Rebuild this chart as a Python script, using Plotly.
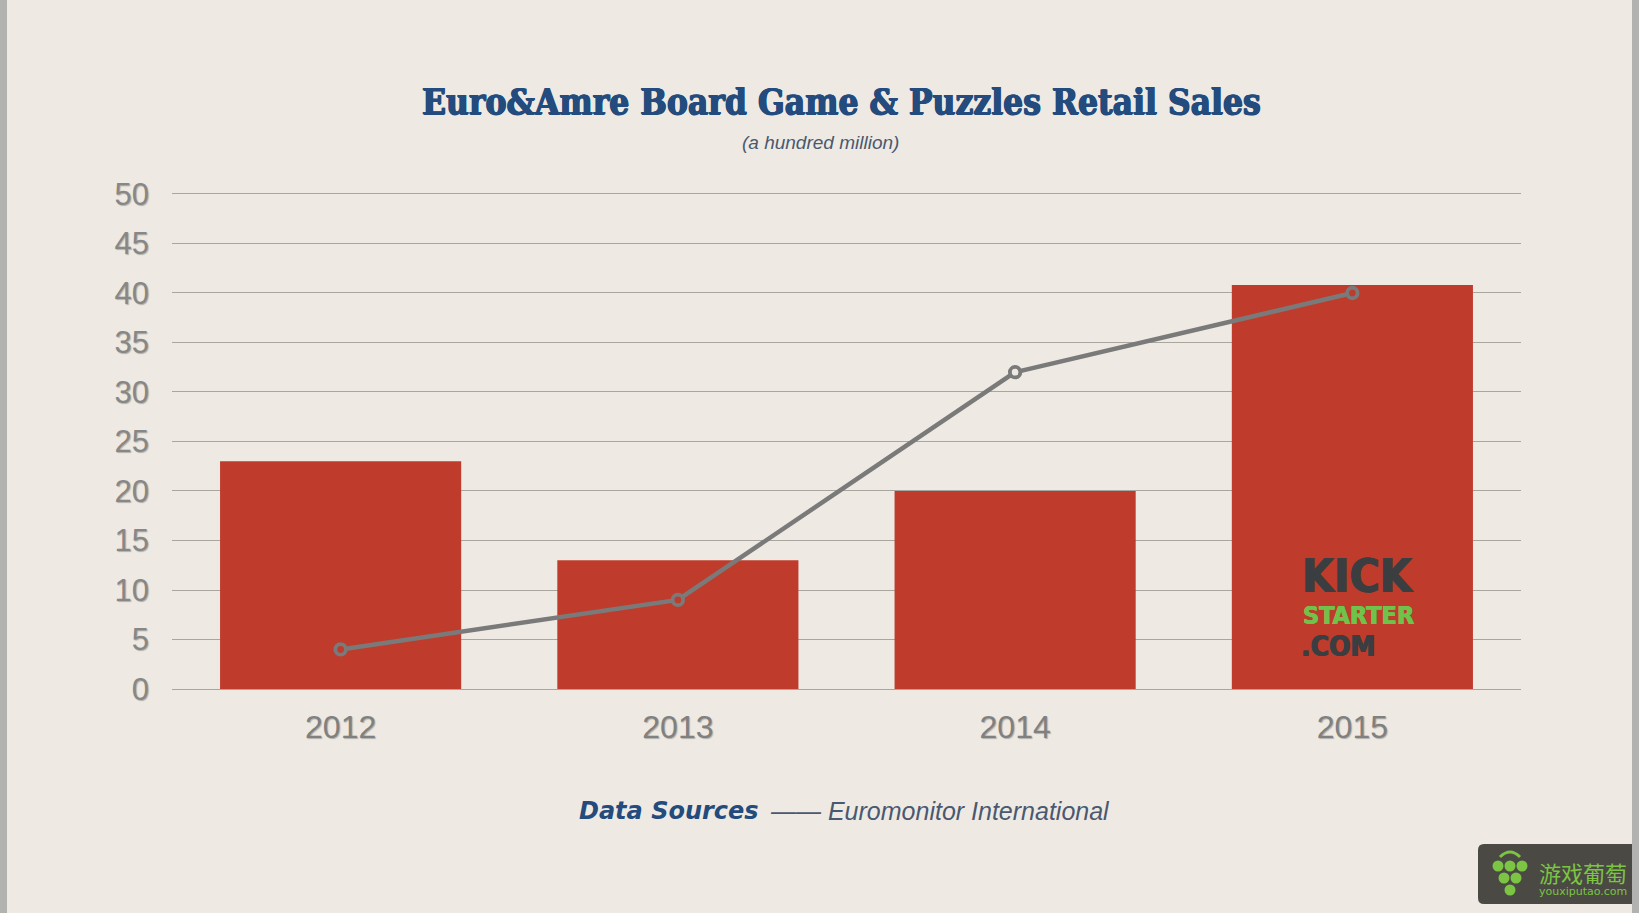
import plotly.graph_objects as go

# ---- data ----
years = ["2012", "2013", "2014", "2015"]
bar_values = [23.0, 13.0, 20.0, 40.8]
line_values = [4.0, 9.0, 32.0, 40.0]
y_ticks = [0, 5, 10, 15, 20, 25, 30, 35, 40, 45, 50]

title_text = "Euro&Amre Board Game & Puzzles Retail Sales"
subtitle_text = "(a hundred million)"
source_label = "Data Sources"
source_text = "—— Euromonitor International"

# ---- style ----
W, H = 1639, 913
L, R, T, B = 172, 118, 192, 224
Y_MAX = 50.2
BG = "#eeeae3"
BAR = "#bf3b2b"
LINE = "#7a7a7a"
NAVY = "#234b7d"

def px(x):
    return (x - L) / (W - L - R)

def py(y):
    return (H - B - y) / (H - T - B)

fig = go.Figure()

fig.add_trace(go.Bar(
    x=years, y=bar_values, marker=dict(color=BAR, line=dict(width=0)),
    width=0.715, hoverinfo="skip", showlegend=False,
))

marker_fill = [BAR if lv <= bv else BG for lv, bv in zip(line_values, bar_values)]
fig.add_trace(go.Scatter(
    x=years, y=line_values, mode="lines+markers",
    line=dict(color=LINE, width=4.5),
    marker=dict(symbol="circle", size=10.5, color=marker_fill,
                line=dict(color=LINE, width=3.8)),
    hoverinfo="skip", showlegend=False,
))

fig.update_layout(
    width=W, height=H,
    margin=dict(l=L, r=R, t=T, b=B, pad=0),
    paper_bgcolor=BG, plot_bgcolor=BG,
    showlegend=False,
    xaxis=dict(type="category", range=[-0.5, 3.5], showgrid=False,
               zeroline=False, showline=False, ticks="",
               tickfont=dict(family="Liberation Sans", size=32, color="#808080",
                             shadow="1px 1px 1px rgba(0,0,0,0.25)"),
               ticklabelstandoff=16),
    yaxis=dict(range=[0, Y_MAX], tickvals=y_ticks, showgrid=True,
               gridcolor="#a9a6a0", gridwidth=1,
               zeroline=True, zerolinecolor="#a9a6a0", zerolinewidth=1,
               showline=False, ticks="",
               tickfont=dict(family="Liberation Sans", size=31, color="#878787",
                             shadow="1px 1px 1px rgba(0,0,0,0.25)"),
               ticklabelstandoff=22),
)

thick = f"0.7px 0 0 {NAVY}, -0.7px 0 0 {NAVY}, 0 0.5px 0 {NAVY}"
ann = []
ann.append(dict(text=title_text, x=px(841), y=py(101), xref="paper", yref="paper",
                xanchor="center", yanchor="middle", showarrow=False,
                font=dict(family="DejaVu Serif Condensed", size=35, color=NAVY, weight="bold",
                          shadow=thick)))
ann.append(dict(text="<i>" + subtitle_text + "</i>", x=px(820), y=py(143), xref="paper", yref="paper",
                xanchor="center", yanchor="middle", showarrow=False,
                font=dict(family="Liberation Sans", size=19, color="#4a5870")))
ann.append(dict(text="<b><i>" + source_label + "</i></b>", x=px(761), y=py(811), xref="paper", yref="paper",
                xanchor="right", yanchor="middle", showarrow=False,
                font=dict(family="DejaVu Sans", size=24, color=NAVY)))
ann.append(dict(text="<i>" + source_text + "</i>", x=px(768), y=py(811), xref="paper", yref="paper",
                xanchor="left", yanchor="middle", showarrow=False,
                font=dict(family="Liberation Sans", size=25, color="#4a5870")))

# Kickstarter logo
ann.append(dict(text="KICK", x=px(1358), y=py(576), xref="paper", yref="paper",
                xanchor="center", yanchor="middle", showarrow=False,
                font=dict(family="DejaVu Sans Condensed", size=46, color="#3a3e40", weight="bold",
                          shadow="0.8px 0 0 #3a3e40, -0.8px 0 0 #3a3e40")))
ann.append(dict(text="STARTER", x=px(1358), y=py(615), xref="paper", yref="paper",
                xanchor="center", yanchor="middle", showarrow=False,
                font=dict(family="DejaVu Sans Condensed", size=25, color="#6fc24a", weight="bold",
                          shadow="0.5px 0 0 #6fc24a, -0.5px 0 0 #6fc24a")))
ann.append(dict(text=".COM", x=px(1299), y=py(646), xref="paper", yref="paper",
                xanchor="left", yanchor="middle", showarrow=False,
                font=dict(family="DejaVu Sans Condensed", size=28, color="#3a3e40", weight="bold",
                          shadow="0.6px 0 0 #3a3e40, -0.6px 0 0 #3a3e40")))

# watermark text
ann.append(dict(text="游戏葡萄", x=px(1537), y=py(872), xref="paper", yref="paper",
                xanchor="left", yanchor="middle", showarrow=False,
                font=dict(family="Noto Sans CJK SC", size=22, color="#7cc443")))
ann.append(dict(text="youxiputao.com", x=px(1537), y=py(891), xref="paper", yref="paper",
                xanchor="left", yanchor="middle", showarrow=False,
                font=dict(family="DejaVu Sans", size=11, color="#7cc443")))

shapes = []
# side borders
for x0, x1 in [(0, 7), (1632, 1639)]:
    shapes.append(dict(type="rect", xref="paper", yref="paper",
                       x0=px(x0), x1=px(x1), y0=py(H), y1=py(0),
                       fillcolor="#b2b2b0", line=dict(width=0), layer="above"))
# watermark box (rounded)
bx0, bx1, by0, by1, r = 1478, 1632, 844, 904, 6
path = (f"M {px(bx0 + r)} {py(by0)} L {px(bx1)} {py(by0)} L {px(bx1)} {py(by1)} "
        f"L {px(bx0 + r)} {py(by1)} Q {px(bx0)} {py(by1)} {px(bx0)} {py(by1 - r)} "
        f"L {px(bx0)} {py(by0 + r)} Q {px(bx0)} {py(by0)} {px(bx0 + r)} {py(by0)} Z")
shapes.append(dict(type="path", xref="paper", yref="paper", path=path,
                   fillcolor="#4a4944", line=dict(width=0), layer="above"))
# grape icon
for cx, cy in [(1498, 866), (1510, 866), (1522, 866), (1504, 878), (1516, 878), (1510, 890)]:
    rr = 5.5
    shapes.append(dict(type="circle", xref="paper", yref="paper",
                       x0=px(cx - rr), x1=px(cx + rr), y0=py(cy + rr), y1=py(cy - rr),
                       fillcolor="#7cc443", line=dict(width=0), layer="above"))
shapes.append(dict(type="path", xref="paper", yref="paper",
                   path=f"M {px(1500)} {py(857)} Q {px(1510)} {py(847)} {px(1520)} {py(857)}",
                   line=dict(color="#7cc443", width=3), layer="above"))

fig.update_layout(annotations=ann, shapes=shapes)

fig.write_html("out.html")
